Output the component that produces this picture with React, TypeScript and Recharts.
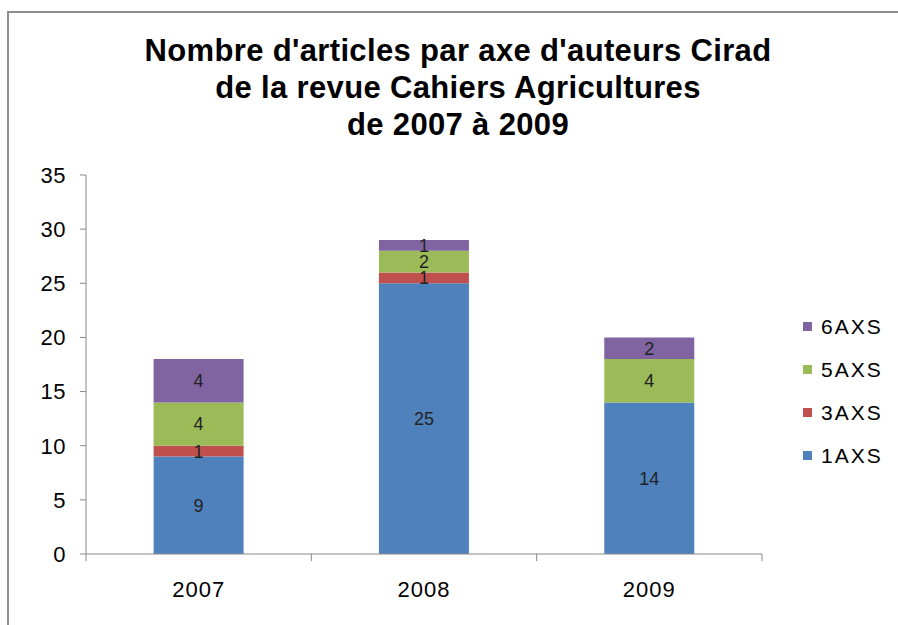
import { Bar, BarChart, LabelList, XAxis, YAxis } from "recharts";

const years = ["2007", "2008", "2009"];
const axs1 = [9, 25, 14];
const axs3 = [1, 1, 0];
const axs5 = [4, 2, 4];
const axs6 = [4, 1, 2];
const yTicks = [0, 5, 10, 15, 20, 25, 30, 35];

const series = [
  { key: "1AXS", color: "#4F81BD" },
  { key: "3AXS", color: "#C0504D" },
  { key: "5AXS", color: "#9BBB59" },
  { key: "6AXS", color: "#8064A2" },
];

const data = years.map((year, i) => ({
  year,
  "1AXS": axs1[i],
  "3AXS": axs3[i],
  "5AXS": axs5[i],
  "6AXS": axs6[i],
}));

const font = "'Liberation Sans', Arial, sans-serif";
const bandWidth = (762 - 86) / years.length;

const XTick = (props: any) => {
  const { x, y, payload } = props;
  return (
    <g>
      <line x1={x + bandWidth / 2} y1={y - 8} x2={x + bandWidth / 2} y2={y - 1} stroke="#888" />
      {payload.index === 0 && (
        <line x1={x - bandWidth / 2} y1={y - 8} x2={x - bandWidth / 2} y2={y - 1} stroke="#888" />
      )}
      <text
        x={x}
        y={y + 35}
        textAnchor="middle"
        fontSize={22}
        letterSpacing={1}
        fill="#000"
        fontFamily={font}
      >
        {payload.value}
      </text>
    </g>
  );
};

const App = () => {
  return (
    <div style={{ position: "absolute", left: 0, top: 0, width: 898, height: 625, background: "#fff", overflow: "hidden" }}>
      <div
        style={{
          position: "absolute",
          left: 7,
          top: 11,
          width: 900,
          height: 700,
          border: "2px solid #8c8c8c",
        }}
      />
      <div
        style={{
          position: "absolute",
          left: 0,
          top: 32,
          width: 916,
          textAlign: "center",
          fontFamily: font,
          fontWeight: "bold",
          fontSize: 31,
          lineHeight: "37px",
          letterSpacing: 0.35,
          color: "#000",
        }}
      >
        Nombre d'articles par axe d'auteurs Cirad
        <br />
        de la revue Cahiers Agricultures
        <br />
        de 2007 à 2009
      </div>
      <div style={{ position: "absolute", left: 0, top: 0 }}>
        <BarChart
          width={898}
          height={625}
          data={data}
          margin={{ top: 175, right: 136, bottom: 41, left: 26 }}
          barCategoryGap="30%"
        >
          <XAxis
            dataKey="year"
            axisLine={{ stroke: "#888" }}
            tickLine={false}
            tick={<XTick />}
            height={30}
            interval={0}
          />
          <YAxis
            domain={[0, 35]}
            ticks={yTicks}
            interval={0}
            width={60}
            axisLine={{ stroke: "#888" }}
            tickLine={{ stroke: "#888" }}
            tickSize={6}
            tick={{ fontSize: 22, fill: "#000", fontFamily: font, letterSpacing: 0.5, dx: -12 }}
          />
          {series.map((s) => (
            <Bar key={s.key} dataKey={s.key} stackId="a" fill={s.color} isAnimationActive={false}>
              <LabelList
                dataKey={s.key}
                position="center"
                fill="#222"
                fontSize={18}
                fontFamily={font}
                formatter={(v: any) => (v ? v : "")}
              />
            </Bar>
          ))}
        </BarChart>
      </div>
      <div
        style={{
          position: "absolute",
          left: 803,
          top: 305,
          fontFamily: font,
          fontSize: 21,
          letterSpacing: 2,
          color: "#000",
        }}
      >
        {[...series].reverse().map((s) => (
          <div key={s.key} style={{ display: "flex", alignItems: "center", height: 43 }}>
            <span style={{ width: 9, height: 9, background: s.color, marginRight: 9, display: "inline-block" }} />
            {s.key}
          </div>
        ))}
      </div>
    </div>
  );
};

export default App;
